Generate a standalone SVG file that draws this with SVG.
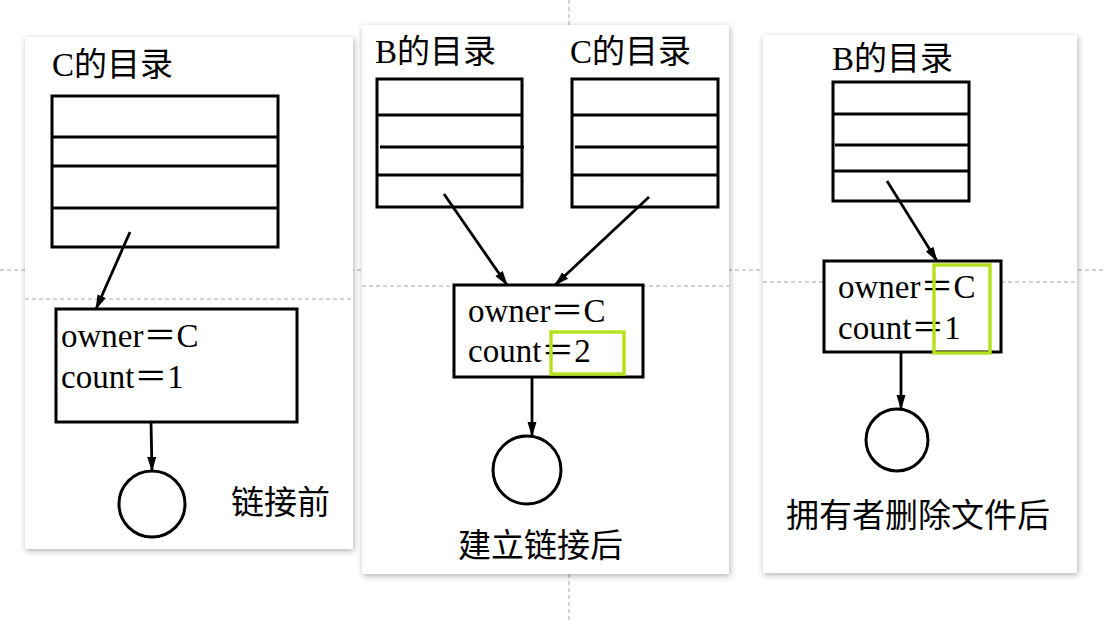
<svg xmlns="http://www.w3.org/2000/svg" width="1104" height="620" viewBox="0 0 1104 620">
<style>
.panel{fill:#fff;filter:url(#sh)}
.guide{stroke:#a6a6a6;stroke-width:1;stroke-dasharray:4 3;fill:none}
.box{fill:#fff;stroke:#000;stroke-width:3}
.ln{stroke:#000;stroke-width:3;fill:none}
.hl{fill:none;stroke:#b5e21b;stroke-width:3.4}
.arr{stroke:#000;stroke-width:2.8;fill:none;marker-end:url(#ah)}
.circ{fill:#fff;stroke:#000;stroke-width:3}
text{font-family:"Liberation Serif","Noto Sans CJK SC",serif;font-size:33px;fill:#000}
</style>
<defs>
<filter id="sh" x="-10%" y="-10%" width="120%" height="120%">
<feDropShadow dx="1" dy="2" stdDeviation="3" flood-color="#000" flood-opacity="0.3"/>
</filter>
<marker id="ah" markerWidth="15" markerHeight="10" refX="14" refY="5" orient="auto" markerUnits="userSpaceOnUse">
<path d="M0,0.5 L15,5 L0,9.5 Z" fill="#000"/>
</marker>
</defs>
<rect width="1104" height="620" fill="#fff"/>
<line class="guide" x1="0" y1="270" x2="1104" y2="270"/>
<line class="guide" x1="569" y1="0" x2="569" y2="620"/>

<g id="panel1">
<rect class="panel" x="25" y="37" width="328" height="512"/>
<line class="guide" x1="25" y1="299" x2="353" y2="299"/>
</g>
<g id="panel2">
<rect class="panel" x="362" y="25" width="367" height="549"/>
<line class="guide" x1="362" y1="286" x2="729" y2="286"/>
</g>
<g id="panel3">
<rect class="panel" x="763" y="35" width="314" height="538"/>
<line class="guide" x1="763" y1="282" x2="1077" y2="282"/>
</g>

<g id="p1-dir">
<text x="52" y="76">C的目录</text>
<rect class="box" x="52" y="96" width="226" height="151"/>
<line class="ln" x1="52" y1="137" x2="278" y2="137"/>
<line class="ln" x1="52" y1="166" x2="278" y2="166"/>
<line class="ln" x1="52" y1="208" x2="278" y2="208"/>
</g>
<g id="p1-inode">
<rect class="box" x="56" y="309" width="241" height="113"/>
<text x="61" y="347">owner＝C</text>
<text x="61" y="388">count＝1</text>
</g>
<g id="p1-file">
<circle class="circ" cx="152" cy="504" r="33"/>
</g>
<g id="p1-label"><text x="231" y="514">链接前</text></g>

<g id="p2-bdir">
<text x="375" y="63">B的目录</text>
<rect class="box" x="377" y="79" width="145" height="128"/>
<line class="ln" x1="377" y1="115" x2="522" y2="115"/>
<line class="ln" x1="380" y1="147" x2="524" y2="147"/>
<line class="ln" x1="377" y1="175" x2="522" y2="175"/>
</g>
<g id="p2-cdir">
<text x="570" y="63">C的目录</text>
<rect class="box" x="572" y="79" width="146" height="128"/>
<line class="ln" x1="572" y1="115" x2="718" y2="115"/>
<line class="ln" x1="575" y1="147" x2="719" y2="147"/>
<line class="ln" x1="572" y1="175" x2="718" y2="175"/>
</g>
<g id="p2-inode">
<rect class="box" x="454" y="285" width="189" height="92"/>
<text x="468" y="322">owner＝C</text>
<text x="468" y="362">count＝2</text>
<rect class="hl" x="551" y="332" width="73" height="42"/>
</g>
<g id="p2-file">
<circle class="circ" cx="527" cy="470" r="34"/>
</g>
<g id="p2-label"><text x="458" y="557">建立链接后</text></g>

<g id="p3-bdir">
<text x="832" y="70">B的目录</text>
<rect class="box" x="833" y="82" width="136" height="119"/>
<line class="ln" x1="833" y1="114" x2="969" y2="114"/>
<line class="ln" x1="835" y1="145" x2="969" y2="145"/>
<line class="ln" x1="833" y1="171" x2="969" y2="171"/>
</g>
<g id="p3-inode">
<rect class="box" x="824" y="261" width="177" height="91"/>
<text x="838" y="298">owner＝C</text>
<text x="838" y="339">count＝1</text>
<rect class="hl" x="934" y="265" width="56" height="88"/>
</g>
<g id="p3-file">
<circle class="circ" cx="897" cy="440" r="31"/>
</g>
<g id="p3-label"><text x="786" y="527">拥有者删除文件后</text></g>

<g id="connectors">
<line class="arr" x1="130" y1="232" x2="96" y2="309"/>
<line class="arr" x1="151" y1="422" x2="152" y2="471"/>
<line class="arr" x1="444" y1="194" x2="507" y2="285"/>
<line class="arr" x1="649" y1="197" x2="555" y2="285"/>
<line class="arr" x1="532" y1="377" x2="532" y2="436"/>
<line class="arr" x1="887" y1="181" x2="937" y2="261"/>
<line class="arr" x1="901" y1="352" x2="901" y2="409"/>
</g>
</svg>
